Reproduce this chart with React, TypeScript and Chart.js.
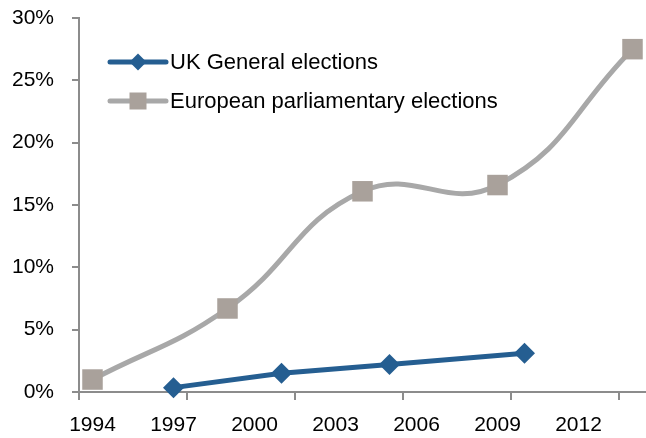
import React, { useEffect, useRef } from "react";
import { Chart, registerables } from "chart.js";

Chart.register(...registerables);

const ukLabel = "UK General elections";
const euLabel = "European parliamentary elections";
const ukYears = [1997, 2001, 2005, 2010];
const ukValues = [0.35, 1.5, 2.2, 3.1];
const euYears = [1994, 1999, 2004, 2009, 2014];
const euValues = [1.0, 6.7, 16.1, 16.6, 27.5];
const xTickLabels = [1994, 1997, 2000, 2003, 2006, 2009, 2012];
const xTickMarks = [1993.5, 1997.5, 2001.5, 2005.5, 2009.5, 2013.5];
const yTicks = [0, 5, 10, 15, 20, 25, 30];

const BLUE = "#255E91";
const GRAY_LINE = "#A8A8A8";
const GRAY_MARK = "#A9A19B";
const AXIS = "#8C8C8C";
const FONT = "'Liberation Sans', Arial, sans-serif";

const tickMarkPlugin = {
  id: "xTickMarks",
  afterDraw(chart: any) {
    const { ctx, scales } = chart;
    const x = scales.x;
    ctx.save();
    ctx.strokeStyle = AXIS;
    ctx.lineWidth = 2;
    xTickMarks.forEach((v) => {
      const px = Math.round(x.getPixelForValue(v));
      ctx.beginPath();
      ctx.moveTo(px, x.top);
      ctx.lineTo(px, x.top + 8);
      ctx.stroke();
    });
    ctx.restore();
  },
};

const legendPlugin = {
  id: "insideLegend",
  afterDraw(chart: any) {
    const { ctx, chartArea } = chart;
    const left = chartArea.left;
    const top = chartArea.top;
    const rows = [
      { label: ukLabel, color: BLUE, marker: BLUE, style: "diamond", dy: 44 },
      { label: euLabel, color: GRAY_LINE, marker: GRAY_MARK, style: "square", dy: 83 },
    ];
    ctx.save();
    rows.forEach((r) => {
      const y = top + r.dy;
      const x0 = left + 31;
      const x1 = left + 87;
      const cx = left + 59;
      ctx.strokeStyle = r.color;
      ctx.lineWidth = 5;
      ctx.lineCap = "round";
      ctx.beginPath();
      ctx.moveTo(x0, y);
      ctx.lineTo(x1, y);
      ctx.stroke();
      ctx.fillStyle = r.marker;
      if (r.style === "diamond") {
        const h = 8.5;
        ctx.beginPath();
        ctx.moveTo(cx, y - h);
        ctx.lineTo(cx + h, y);
        ctx.lineTo(cx, y + h);
        ctx.lineTo(cx - h, y);
        ctx.closePath();
        ctx.fill();
      } else {
        const s = 17;
        ctx.fillRect(cx - s / 2, y - s / 2, s, s);
      }
      ctx.fillStyle = "#000";
      ctx.font = "22px " + FONT;
      ctx.textBaseline = "middle";
      ctx.textAlign = "left";
      ctx.fillText(r.label, left + 91, y + 1);
    });
    ctx.restore();
  },
};

export default function App() {
  const ref = useRef<HTMLCanvasElement>(null);
  useEffect(() => {
    if (!ref.current) return;
    const chart = new Chart(ref.current, {
      type: "line",
      data: {
        datasets: [
          {
            label: euLabel,
            data: euYears.map((x, i) => ({ x, y: euValues[i] })),
            borderColor: GRAY_LINE,
            backgroundColor: GRAY_MARK,
            borderWidth: 5,
            tension: 0.45,
            pointStyle: "rect",
            pointRadius: 14.5,
            pointHoverRadius: 14.5,
            pointBorderWidth: 0,
            pointBackgroundColor: GRAY_MARK,
            pointBorderColor: GRAY_MARK,
            fill: false,
            clip: false,
            order: 2,
          },
          {
            label: ukLabel,
            data: ukYears.map((x, i) => ({ x, y: ukValues[i] })),
            borderColor: BLUE,
            backgroundColor: BLUE,
            borderWidth: 5,
            tension: 0,
            pointStyle: "rectRot",
            pointRadius: 10.5,
            pointHoverRadius: 10.5,
            pointBorderWidth: 0,
            pointBackgroundColor: BLUE,
            pointBorderColor: BLUE,
            fill: false,
            clip: false,
            order: 1,
          },
        ],
      },
      options: {
        responsive: false,
        animation: false,
        layout: { autoPadding: false, padding: { top: 18, right: 0, bottom: 0, left: 0 } },
        plugins: {
          legend: { display: false },
          tooltip: { enabled: false },
        },
        scales: {
          x: {
            type: "linear",
            min: 1993.5,
            max: 2014.5,
            afterBuildTicks: (axis: any) => {
              axis.ticks = xTickLabels.map((v) => ({ value: v }));
            },
            afterFit: (axis: any) => {
              axis.height = 46;
              axis.paddingLeft = 0;
              axis.paddingRight = 0;
            },
            grid: { display: false, drawTicks: false },
            border: { display: true, color: AXIS, width: 2 },
            ticks: {
              autoSkip: false,
              maxRotation: 0,
              padding: 21,
              color: "#000",
              font: { family: FONT, size: 21 },
              callback: (v: any) => String(v),
            },
          },
          y: {
            min: 0,
            max: 30,
            afterBuildTicks: (axis: any) => {
              axis.ticks = yTicks.map((v) => ({ value: v }));
            },
            afterFit: (axis: any) => {
              axis.width = 79;
              axis.paddingTop = 0;
              axis.paddingBottom = 0;
            },
            grid: {
              display: true,
              drawOnChartArea: false,
              drawTicks: true,
              tickLength: 7,
              color: AXIS,
              lineWidth: 2,
            },
            border: { display: true, color: AXIS, width: 2 },
            ticks: {
              padding: 18,
              color: "#000",
              font: { family: FONT, size: 21 },
              callback: (v: any) => v + "%",
            },
          },
        },
      },
      plugins: [tickMarkPlugin, legendPlugin],
    } as any);
    return () => chart.destroy();
  }, []);
  return (
    <div style={{ position: "fixed", left: 0, top: 0, width: 646, height: 438, background: "#fff" }}>
      <canvas ref={ref} width={646} height={438} style={{ display: "block" }} />
    </div>
  );
}
